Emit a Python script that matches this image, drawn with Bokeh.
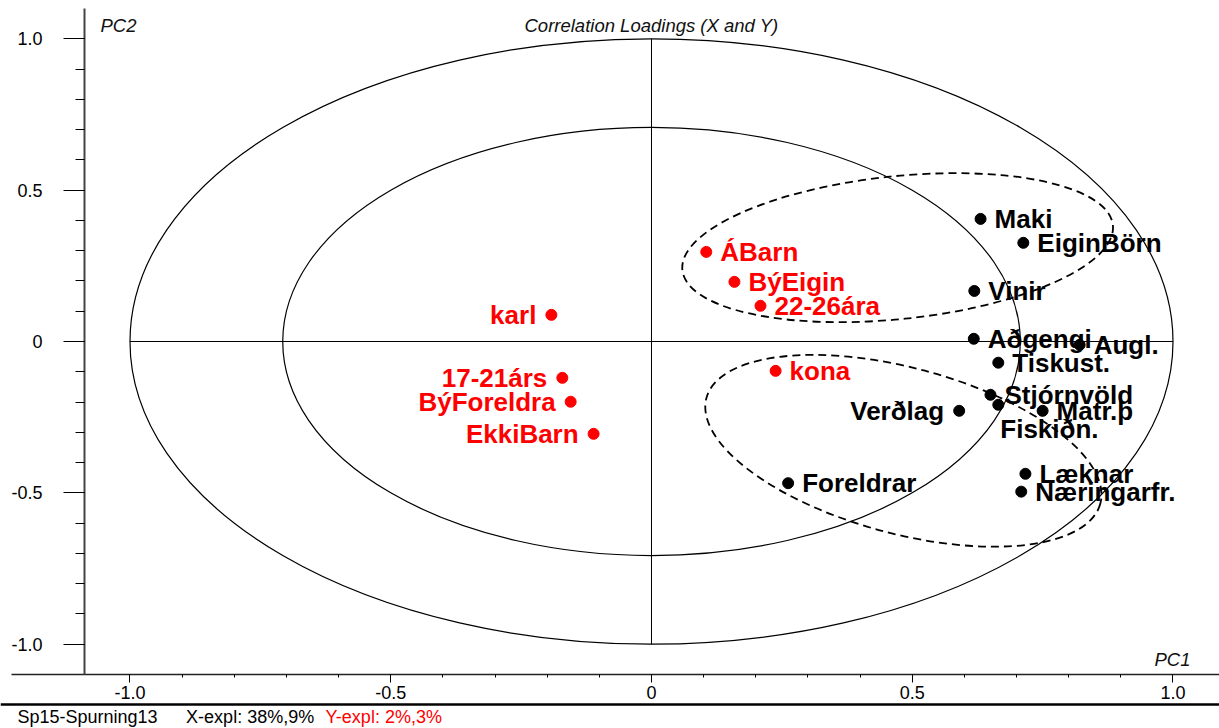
from bokeh.plotting import figure
from bokeh.models import (Range1d, LinearAxis, FixedTicker, Label, ColumnDataSource,
                          CustomJSTickFormatter)
from bokeh.core.properties import value
from bokeh.embed import file_html
from bokeh.resources import INLINE

# ---------------- data ----------------
# X-variables (black)
x_names = ["Maki", "EiginBörn", "Vinir", "Aðgengi", "Augl.", "Tiskust.", "Stjórnvöld",
           "Fiskiðn.", "Matr.þ", "Verðlag", "Læknar", "Næringarfr.", "Foreldrar"]
x_pc1 = [0.631, 0.713, 0.619, 0.618, 0.821, 0.665, 0.650, 0.665, 0.750, 0.590, 0.717, 0.709, 0.262]
x_pc2 = [0.405, 0.326, 0.167, 0.009, -0.011, -0.070, -0.176, -0.209, -0.229, -0.229, -0.437, -0.496, -0.468]
x_side = ["right", "right", "right", "right", "right", "right", "right",
          "below", "right", "left", "right", "right", "right"]

# Y-variables (red)
y_names = ["ÁBarn", "BýEigin", "22-26ára", "karl", "17-21árs", "BýForeldra", "EkkiBarn", "kona"]
y_pc1 = [0.105, 0.159, 0.209, -0.192, -0.171, -0.155, -0.111, 0.238]
y_pc2 = [0.296, 0.197, 0.118, 0.088, -0.120, -0.199, -0.305, -0.097]
y_side = ["right", "right", "right", "left", "left", "left", "left", "right"]

# correlation circles (100% and 50% explained variance)
circle_radii = [1.0, 0.7071]

# hand-drawn group ellipses: centre, width, height (data units), angle (deg)
group_cx = [0.472, 0.483]
group_cy = [0.310, -0.361]
group_w = [0.830, 0.782]
group_h = [0.472, 0.548]
group_angle = [5.95, -15.0]

major_ticks = [-1.0, -0.5, 0.0, 0.5, 1.0]
minor_ticks = [round(-1.0 + 0.1 * i, 1) for i in range(21)]

title_text = "Correlation Loadings (X and Y)"
footer_name = "Sp15-Spurning13"
footer_x = "X-expl: 38%,9%"
footer_y = "Y-expl: 2%,3%"

FONT = "Liberation Sans"

# plot box limits (axes are drawn at these positions)
X_LO, X_HI = -1.24832, 1.08917
Y_LO, Y_HI = -1.27849, 1.12653
AXIS_X_AT = -1.0873     # PC2 axis position along PC1
AXIS_Y_AT = -1.1        # PC1 axis position along PC2
SEP_Y_AT = -1.1992      # footer separator

# ---------------- figure ----------------
p = figure(width=1219, height=728,
           x_range=Range1d(X_LO, X_HI), y_range=Range1d(Y_LO, Y_HI),
           output_backend="svg", toolbar_location=None,
           x_axis_location=None, y_axis_location=None,
           min_border_left=0, min_border_right=0, min_border_top=0, min_border_bottom=0,
           background_fill_color="white", border_fill_color="white",
           outline_line_color=None)
p.grid.visible = False

fmt = CustomJSTickFormatter(code="return tick == 0 ? '0' : tick.toFixed(1);")

yaxis = LinearAxis(fixed_location=AXIS_X_AT, bounds=(AXIS_Y_AT, 1.1),
                   ticker=FixedTicker(ticks=major_ticks, minor_ticks=minor_ticks),
                   formatter=fmt,
                   axis_line_color="#444444", axis_line_width=2,
                   major_tick_in=0, major_tick_out=21, minor_tick_in=0, minor_tick_out=9,
                   major_tick_line_color="black", minor_tick_line_color="black",
                   major_label_standoff=21,
                   major_label_text_font=FONT, major_label_text_font_size="18px",
                   major_label_text_color="black")
p.add_layout(yaxis, "left")

xaxis = LinearAxis(fixed_location=AXIS_Y_AT, bounds=(-1.2272, X_HI),
                   ticker=FixedTicker(ticks=major_ticks, minor_ticks=minor_ticks),
                   formatter=fmt,
                   axis_line_color="#222222", axis_line_width=1.5,
                   major_tick_in=0, major_tick_out=8, minor_tick_in=0, minor_tick_out=3,
                   major_tick_line_color="black", minor_tick_line_color="black",
                   major_label_standoff=4,
                   major_label_text_font=FONT, major_label_text_font_size="18px",
                   major_label_text_color="black")
p.add_layout(xaxis, "below")

sep = LinearAxis(fixed_location=SEP_Y_AT,
                 ticker=FixedTicker(ticks=[], minor_ticks=[]),
                 axis_line_color="black", axis_line_width=2.5,
                 major_tick_in=0, major_tick_out=0, minor_tick_in=0, minor_tick_out=0,
                 major_label_standoff=0, major_label_text_font_size="0px")
p.add_layout(sep, "below")

# correlation circles and cross
R = max(circle_radii)
p.ellipse(x=[0.0] * len(circle_radii), y=[0.0] * len(circle_radii),
          width=[2 * r for r in circle_radii], height=[2 * r for r in circle_radii],
          fill_color=None, line_color="black", line_width=1.2)
p.segment(x0=[-R, 0.0], y0=[0.0, -R], x1=[R, 0.0], y1=[0.0, R],
          line_color="black", line_width=1)

# group ellipses
p.ellipse(x=group_cx, y=group_cy, width=group_w, height=group_h,
          angle=group_angle, angle_units="deg",
          fill_color=None, line_color="black", line_width=1.8, line_dash="8 5")

# points
p.scatter(x=x_pc1, y=x_pc2, size=11, color="black")
p.scatter(x=y_pc1, y=y_pc2, size=11, color="#ff0000")


def add_labels(names, xs, ys, sides, color):
    for side, align, xo, yo in (("right", "left", 14, 0), ("left", "right", -15, 0),
                                ("below", "left", 2, 24)):
        idx = [i for i, s in enumerate(sides) if s == side]
        if not idx:
            continue
        src = ColumnDataSource(dict(x=[xs[i] for i in idx], y=[ys[i] for i in idx],
                                    t=[names[i] for i in idx]))
        p.text(x="x", y="y", text="t", source=src, x_offset=xo, y_offset=yo,
               text_align=align, text_baseline="middle",
               text_font=value(FONT), text_font_style="bold", text_font_size="26px",
               text_color=color)


add_labels(x_names, x_pc1, x_pc2, x_side, "black")
add_labels(y_names, y_pc1, y_pc2, y_side, "#ff0000")

# in-plot annotations
ital = dict(text_font=FONT, text_font_size="18.5px", text_font_style="italic",
            text_color="#111111", text_baseline="middle")
p.add_layout(Label(x=-1.0566, y=1.0433, text="PC2", text_align="left", **ital))
p.add_layout(Label(x=0.0, y=1.0433, text=title_text, text_align="center", **ital))
p.add_layout(Label(x=0.9645, y=-1.0489, text="PC1", text_align="left", **ital))

# footer
foot = dict(text_font=FONT, text_font_size="18px", text_baseline="middle",
            text_align="left")
p.add_layout(Label(x=-1.2157, y=-1.2405, text=footer_name, text_color="black", **foot))
p.add_layout(Label(x=-0.8924, y=-1.2405, text=footer_x, text_color="black", **foot))
p.add_layout(Label(x=-0.6251, y=-1.2405, text=footer_y, text_color="#ff0000", **foot))

open("out.html", "w").write(file_html(p, INLINE))
